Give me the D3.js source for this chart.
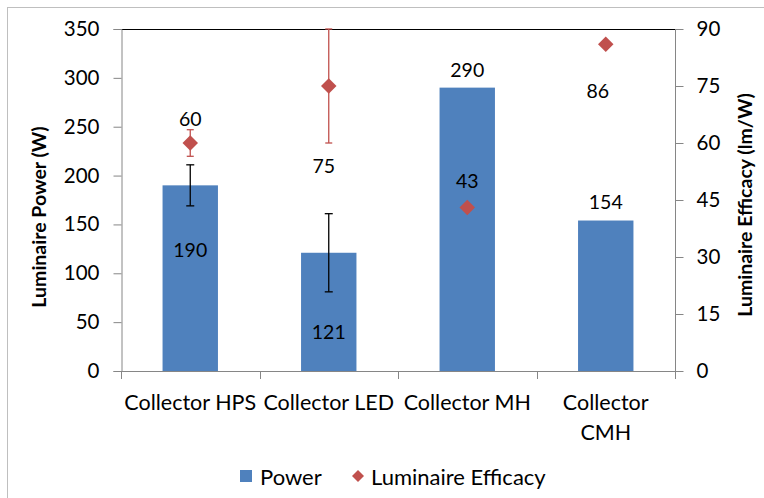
<!DOCTYPE html>
<html>
<head>
<meta charset="utf-8">
<script src="https://cdn.jsdelivr.net/npm/d3@7"></script>
<style>
  body { margin: 0; background: #fff; }
  svg { font-family: Lato, "Open Sans", sans-serif; }
</style>
</head>
<body>
<div id="chart"></div>
<script>
// data
var categories = ["Collector HPS", "Collector LED", "Collector MH", "Collector CMH"];
var power = [190, 121, 290, 154];
var powerErr = [21, 40, 0, 0];
var efficacy = [60, 75, 43, 86];
var efficacyErr = [3.5, 15, 0, 0];
var powerTicks = [0, 50, 100, 150, 200, 250, 300, 350];
var efficacyTicks = [0, 15, 30, 45, 60, 75, 90];

// label placement (offset from the mark, px)
var powerLabelOff = [[0, 64], [0, 79], [0, -18], [0, -19]];
var effLabelOff = [[0, -25], [-5, 79], [0, -27], [-8, 46]];

var width = 764,
  height = 498,
  margin = { top: 29, right: 89, bottom: 127, left: 121 };

var blue = "#4f81bd",
  red = "#c0504d",
  axisGrey = "#868686";

var svg = d3.select("#chart")
  .append("svg")
  .attr("width", width)
  .attr("height", height);

// outer chart border
svg.append("rect")
  .attr("x", 7.5).attr("y", 7.5)
  .attr("width", width).attr("height", height)
  .attr("fill", "none")
  .attr("stroke", "#bfbfbf");

var x = d3.scaleBand()
  .domain(categories)
  .range([margin.left, width - margin.right])
  .paddingInner(0.6)
  .paddingOuter(0.3);

var yL = d3.scaleLinear().domain([0, 350]).range([height - margin.bottom, margin.top]);
var yR = d3.scaleLinear().domain([0, 90]).range([height - margin.bottom, margin.top]);

var x0 = margin.left, x1 = width - margin.right;
var yBase = height - margin.bottom;

// top border of plot area
svg.append("line")
  .attr("x1", x0).attr("x2", x1)
  .attr("y1", margin.top + 0.5).attr("y2", margin.top + 0.5)
  .attr("stroke", "#000");

// bars
svg.selectAll("rect.bar")
  .data(power)
  .enter()
  .append("rect")
  .attr("class", "bar")
  .attr("x", function(d, i) { return x(categories[i]); })
  .attr("width", x.bandwidth())
  .attr("y", function(d) { return yL(d); })
  .attr("height", function(d) { return yBase - yL(d); })
  .attr("fill", blue);

// left axis
var axL = svg.append("g")
  .attr("transform", "translate(" + (x0 + 0.5) + ",0)")
  .call(d3.axisLeft(yL).tickValues(powerTicks).tickSize(8).tickPadding(14));
axL.select(".domain").attr("stroke", axisGrey);
axL.selectAll(".tick line").attr("stroke", axisGrey);
axL.selectAll("text").attr("font-size", 20.5).attr("fill", "#000")
  .attr("font-family", "Lato, sans-serif");

// right axis
var axR = svg.append("g")
  .attr("transform", "translate(" + (x1 + 0.5) + ",0)")
  .call(d3.axisRight(yR).tickValues(efficacyTicks).tickSize(8).tickPadding(13));
axR.select(".domain").attr("stroke", axisGrey)
  .attr("d", "M0," + margin.top + "V" + (yBase + 8));
axR.selectAll(".tick line").attr("stroke", axisGrey);
axR.selectAll("text").attr("font-size", 20.5).attr("fill", "#000")
  .attr("font-family", "Lato, sans-serif");

// bottom axis with ticks at the category boundaries
svg.append("line")
  .attr("x1", x0).attr("x2", x1)
  .attr("y1", yBase + 0.5).attr("y2", yBase + 0.5)
  .attr("stroke", axisGrey);
var bounds = d3.range(categories.length + 1).map(function(i) {
  return x0 + i * (x1 - x0) / categories.length;
});
svg.selectAll("line.xtick")
  .data(bounds)
  .enter()
  .append("line")
  .attr("class", "xtick")
  .attr("x1", function(d) { return Math.round(d) + 0.5; })
  .attr("x2", function(d) { return Math.round(d) + 0.5; })
  .attr("y1", yBase).attr("y2", yBase + 8)
  .attr("stroke", axisGrey);

// category labels (wrap the last one like the original)
var catText = svg.selectAll("text.cat")
  .data(categories)
  .enter()
  .append("text")
  .attr("class", "cat")
  .attr("text-anchor", "middle")
  .attr("font-size", 21.5)
  .attr("x", function(d) { return x(d) + x.bandwidth() / 2; })
  .attr("y", yBase + 39);
catText.each(function(d, i) {
  var t = d3.select(this);
  if (i === categories.length - 1) {
    var parts = d.split(" ");
    t.append("tspan").attr("x", t.attr("x")).text(parts[0]);
    t.append("tspan").attr("x", t.attr("x")).attr("dy", 30).text(parts[1]);
  } else {
    t.text(d);
  }
});

// error bars
function errBar(g, cx, yTop, yBot, colour, cap) {
  g.append("line").attr("x1", cx).attr("x2", cx).attr("y1", yTop).attr("y2", yBot)
    .attr("stroke", colour).attr("stroke-width", 1.3);
  g.append("line").attr("x1", cx - cap).attr("x2", cx + cap).attr("y1", yTop).attr("y2", yTop)
    .attr("stroke", colour).attr("stroke-width", 1.3);
  g.append("line").attr("x1", cx - cap).attr("x2", cx + cap).attr("y1", yBot).attr("y2", yBot)
    .attr("stroke", colour).attr("stroke-width", 1.3);
}

var errG = svg.append("g");
power.forEach(function(v, i) {
  if (!powerErr[i]) return;
  var cx = x(categories[i]) + x.bandwidth() / 2;
  errBar(errG, cx, yL(v + powerErr[i]), yL(v - powerErr[i]), "#000", 4);
});
efficacy.forEach(function(v, i) {
  if (!efficacyErr[i]) return;
  var cx = x(categories[i]) + x.bandwidth() / 2;
  errBar(errG, cx, yR(v + efficacyErr[i]), yR(v - efficacyErr[i]), red, 3.5);
});

// efficacy diamonds
var diamond = d3.symbol().type(d3.symbolSquare).size(120);
svg.selectAll("path.eff")
  .data(efficacy)
  .enter()
  .append("path")
  .attr("class", "eff")
  .attr("d", diamond)
  .attr("fill", red)
  .attr("transform", function(d, i) {
    return "translate(" + (x(categories[i]) + x.bandwidth() / 2) + "," + yR(d) + ") rotate(45)";
  });

// data labels
svg.selectAll("text.plab")
  .data(power)
  .enter()
  .append("text")
  .attr("class", "plab")
  .attr("text-anchor", "middle")
  .attr("dominant-baseline", "central")
  .attr("font-size", 19.5)
  .attr("x", function(d, i) { return x(categories[i]) + x.bandwidth() / 2 + powerLabelOff[i][0]; })
  .attr("y", function(d, i) { return yL(d) + powerLabelOff[i][1]; })
  .text(function(d) { return d; });

svg.selectAll("text.elab")
  .data(efficacy)
  .enter()
  .append("text")
  .attr("class", "elab")
  .attr("text-anchor", "middle")
  .attr("dominant-baseline", "central")
  .attr("font-size", 19.5)
  .attr("x", function(d, i) { return x(categories[i]) + x.bandwidth() / 2 + effLabelOff[i][0]; })
  .attr("y", function(d, i) { return yR(d) + effLabelOff[i][1]; })
  .text(function(d) { return d; });

// axis titles
svg.append("text")
  .attr("transform", "translate(46," + ((margin.top + yBase) / 2 + 17) + ") rotate(-90)")
  .attr("text-anchor", "middle")
  .attr("font-size", 19.5)
  .attr("font-weight", "bold")
  .text("Luminaire Power (W)");

svg.append("text")
  .attr("transform", "translate(752," + ((margin.top + yBase) / 2 + 5) + ") rotate(-90)")
  .attr("text-anchor", "middle")
  .attr("font-size", 19.5)
  .attr("font-weight", "bold")
  .text("Luminaire Efficacy (lm/W)");

// legend
var legend = svg.append("g").attr("transform", "translate(240,476)");
legend.append("rect")
  .attr("x", 0).attr("y", -6).attr("width", 12).attr("height", 12)
  .attr("fill", blue);
legend.append("text")
  .attr("x", 20).attr("dominant-baseline", "central")
  .attr("font-size", 22).text("Power");
legend.append("path")
  .attr("d", d3.symbol().type(d3.symbolSquare).size(72))
  .attr("transform", "translate(118,0) rotate(45)")
  .attr("fill", red);
legend.append("text")
  .attr("x", 131).attr("dominant-baseline", "central")
  .attr("font-size", 22).text("Luminaire Efficacy");
</script>
</body>
</html>
